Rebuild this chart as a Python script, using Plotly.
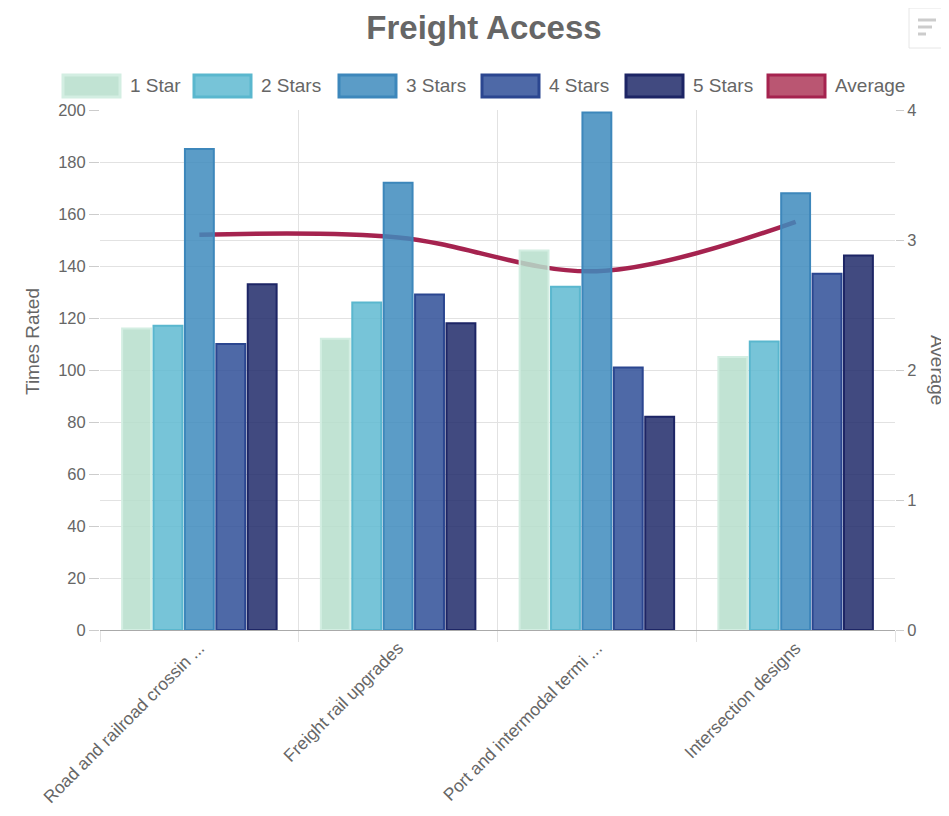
import plotly.graph_objects as go

categories = ["Road and railroad crossin ...", "Freight rail upgrades",
              "Port and intermodal termi ...", "Intersection designs"]
series_names = ["1 Star", "2 Stars", "3 Stars", "4 Stars", "5 Stars"]
star1 = [116, 112, 146, 105]
star2 = [117, 126, 132, 111]
star3 = [185, 172, 199, 168]
star4 = [110, 129, 101, 137]
star5 = [133, 118, 82, 144]
average = [3.04, 3.02, 2.76, 3.14]

fills = ["rgba(182,222,203,0.85)", "rgba(95,186,209,0.85)", "rgba(62,139,189,0.85)",
         "rgba(47,79,152,0.85)", "rgba(32,42,106,0.85)"]
legend_fill_solid = ["#c1e3d3", "#77c4d8", "#5b9cc7", "#4e69a7", "#414a80"]
borders = ["#d3eee2", "#5ab7ce", "#3d87bb", "#2b4690", "#1d2565"]
avg_color = "#a5234f"
avg_fill = "#ba5672"

OFF = 8  # page body margin
W, H = 949 - OFF, 816 - OFF
L, R, T, B = 100 - OFF, 949 - 895, 110 - OFF, 816 - 630
PW, PH = W - L - R, H - T - B


def px(x):
    return (x - OFF - L) / PW


def py(y):
    return (H - B - (y - OFF)) / PH


xs = list(range(len(categories)))
fig = go.Figure()

# Average line on primary y (drawn beneath the overlaid bar axis)
fig.add_trace(go.Scatter(
    x=xs, y=average, name="Average", mode="lines",
    line=dict(color=avg_color, width=4.5, shape="spline", smoothing=1.0),
    yaxis="y", showlegend=False, hoverinfo="y"))

for name, vals, f, b in zip(series_names, [star1, star2, star3, star4, star5], fills, borders):
    fig.add_trace(go.Bar(
        x=xs, y=vals, name=name, yaxis="y2",
        marker=dict(color=f, line=dict(color=b, width=2)),
        showlegend=False))

grid = "#e2e2e2"
FONT = "Liberation Sans, Arial"
tickfont = dict(family=FONT, size=16.5, color="#666666")

fig.update_layout(
    width=W, height=H,
    margin=dict(l=L, r=R, t=T, b=B, autoexpand=False),
    paper_bgcolor="white", plot_bgcolor="white",
    barmode="group", bargap=0.21, bargroupgap=0.08,
    title=dict(text="<b>Freight Access</b>", x=(484 - OFF) / W, xanchor="center",
               y=1 - (27 - OFF) / H, yanchor="middle", yref="container",
               font=dict(family=FONT, size=33, color="#666666")),
    xaxis=dict(range=[-0.5, 3.5], tickvals=xs, ticktext=categories, tickangle=-45,
               automargin=False,
               showgrid=False, zeroline=False, ticks="",
               tickfont=dict(family=FONT, size=17.5, color="#666666"),
               showline=True, linecolor="#aaaaaa", linewidth=1,
               minor=dict(tickvals=[-0.5, 0.5, 1.5, 2.5, 3.5], showgrid=True,
                          gridcolor=grid, ticks="outside", ticklen=11,
                          tickcolor=grid)),
    yaxis=dict(range=[0, 4], dtick=1, side="right", showgrid=True, gridcolor=grid,
               zeroline=False, ticks="outside", ticklen=8, tickcolor="#cccccc",
               tickfont=tickfont, automargin=False),
    yaxis2=dict(range=[0, 200], dtick=20, side="left", overlaying="y",
                showgrid=True, gridcolor=grid, zeroline=False, ticks="outside",
                ticklen=10, tickcolor="#cccccc", tickfont=tickfont, automargin=False),
    hovermode="x",
)

# Axis titles
fig.add_annotation(text="Times Rated", xref="paper", yref="paper", x=px(32), y=py(342),
                   textangle=-90, showarrow=False, xanchor="center", yanchor="middle",
                   font=dict(family=FONT, size=19, color="#666666"))
fig.add_annotation(text="Average", xref="paper", yref="paper", x=px(938), y=py(370),
                   textangle=90, showarrow=False, xanchor="center", yanchor="middle",
                   font=dict(family=FONT, size=19, color="#666666"))

# Legend drawn with wide boxes like the reference
legend_names = series_names + ["Average"]
legend_fills = legend_fill_solid + [avg_fill]
legend_borders = borders + [avg_color]
legend_x = [62, 193, 338, 481, 625, 767]
for nm, lx, fc, bc in zip(legend_names, legend_x, legend_fills, legend_borders):
    fig.add_shape(type="rect", xref="paper", yref="paper",
                  x0=px(lx + 1), x1=px(lx + 58), y0=py(97), y1=py(75),
                  fillcolor=fc, line=dict(color=bc, width=3))
    fig.add_annotation(text=nm, xref="paper", yref="paper", x=px(lx + 66), y=py(86),
                       showarrow=False, xanchor="left", yanchor="middle",
                       font=dict(family=FONT, size=19, color="#666666"))

# Menu icon top right
fig.add_shape(type="rect", xref="paper", yref="paper", x0=px(909), x1=px(949),
              y0=py(48), y1=py(8), line=dict(color="#e6e6e6", width=1), fillcolor="white")
for yy, x1 in [(20, 936), (27, 932), (34, 926)]:
    fig.add_shape(type="line", xref="paper", yref="paper", x0=px(918), x1=px(x1),
                  y0=py(yy), y1=py(yy), line=dict(color="#cccccc", width=3))

fig.write_html("out.html")
